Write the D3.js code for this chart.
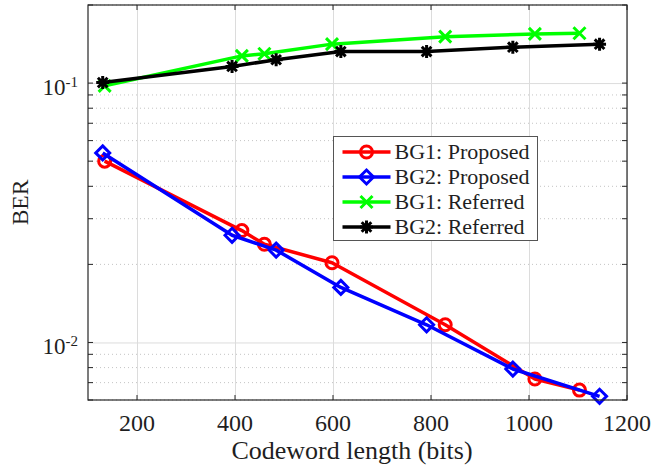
<!DOCTYPE html>
<html>
<head>
<meta charset="utf-8">
<script src="https://cdn.jsdelivr.net/npm/d3@7"></script>
<style>
  body { margin: 0; background: #fff; }
  svg text { font-family: "Liberation Serif", "Times New Roman", serif; fill: #1f1f1f; }
</style>
</head>
<body>
<svg class="js-chart"></svg>
<script>
// codeword lengths (bits) for each base graph
const xBG1 = [134, 414, 460, 598, 829, 1012, 1103];
const xBG2 = [130, 394, 484, 616, 791, 967, 1144];

// BER values
const berBG1Proposed = [0.0500, 0.0270, 0.0239, 0.0203, 0.0117, 0.00723, 0.00655];
const berBG2Proposed = [0.0538, 0.0259, 0.0227, 0.0163, 0.0117, 0.0079, 0.0062];
const berBG1Referred = [0.0976, 0.1273, 0.1297, 0.1413, 0.151, 0.1547, 0.1557];
const berBG2Referred = [0.1005, 0.1159, 0.123, 0.1323, 0.1323, 0.1375, 0.1413];

const seriesNames = ['BG1: Proposed', 'BG2: Proposed', 'BG1: Referred', 'BG2: Referred'];

const xTicks = [200, 400, 600, 800, 1000, 1200];
const yTicks = [0.1, 0.01];
const yTickExp = ['-1', '-2'];

(() => {
    const svgWidth = 652;
    const svgHeight = 466;
    const plot = {left: 88, right: 627, top: 5, bottom: 400};

    const svg = d3.select('.js-chart')
        .attr('width', svgWidth)
        .attr('height', svgHeight);

    const x = d3.scaleLinear()
        .domain([100, 1200])
        .range([plot.left, plot.right]);

    const y = d3.scaleLog()
        .domain([0.006, 0.2])
        .range([plot.bottom, plot.top]);

    const series = [
        {name: seriesNames[0], xs: xBG1, ys: berBG1Proposed, color: '#ff0000', marker: 'circle'},
        {name: seriesNames[1], xs: xBG2, ys: berBG2Proposed, color: '#0000ff', marker: 'diamond'},
        {name: seriesNames[2], xs: xBG1, ys: berBG1Referred, color: '#00ff00', marker: 'cross'},
        {name: seriesNames[3], xs: xBG2, ys: berBG2Referred, color: '#000000', marker: 'star'},
    ];

    const h = plot.bottom - plot.top;
    const w = plot.right - plot.left;

    // minor grid (dotted) for the log axis
    const minor = y.ticks().filter(v => !yTicks.includes(v));
    svg.append('g')
        .selectAll('line')
        .data(minor)
        .enter().append('line')
        .attr('x1', plot.left).attr('x2', plot.right)
        .attr('y1', d => y(d)).attr('y2', d => y(d))
        .attr('stroke', '#c4c4c4')
        .attr('stroke-width', 1)
        .attr('stroke-dasharray', '1,3');

    // major grid
    svg.append('g')
        .attr('transform', `translate(0,${plot.bottom})`)
        .call(d3.axisBottom(x).tickValues(xTicks).tickSize(-h).tickFormat(''))
        .call(g => g.select('.domain').remove())
        .call(g => g.selectAll('line').attr('stroke', '#dcdcdc'));
    svg.append('g')
        .attr('transform', `translate(${plot.left},0)`)
        .call(d3.axisLeft(y).tickValues(yTicks).tickSize(-w).tickFormat(''))
        .call(g => g.select('.domain').remove())
        .call(g => g.selectAll('line').attr('stroke', '#dcdcdc'));

    // lines
    const line = d3.line()
        .x(d => x(d[0]))
        .y(d => y(d[1]));

    const markerPath = (type) => {
        if (type === 'diamond') return 'M0,-7L7,0L0,7L-7,0Z';
        if (type === 'cross') return 'M-6,-6L6,6M-6,6L6,-6';
        if (type === 'star') return 'M-6.5,0L6.5,0M0,-6.5L0,6.5M-4.8,-4.8L4.8,4.8M-4.8,4.8L4.8,-4.8';
        return null;
    };

    const drawMarker = (g, type, color) => {
        if (type === 'circle') {
            g.append('circle').attr('r', 6)
                .attr('fill', 'none').attr('stroke', color).attr('stroke-width', 3);
        } else {
            g.append('path').attr('d', markerPath(type))
                .attr('fill', 'none').attr('stroke', color)
                .attr('stroke-width', 3);
        }
    };

    series.forEach(s => {
        const pts = s.xs.map((v, i) => [v, s.ys[i]]);
        svg.append('path')
            .attr('d', line(pts))
            .attr('fill', 'none')
            .attr('stroke', s.color)
            .attr('stroke-width', 3.5)
            .attr('stroke-linejoin', 'round');
        pts.forEach(p => {
            const g = svg.append('g')
                .attr('transform', `translate(${x(p[0])},${y(p[1])})`);
            drawMarker(g, s.marker, s.color);
        });
    });

    // axes box with inward ticks
    const tl = 5;
    const axisColor = '#262626';
    const ticksG = svg.append('g').attr('stroke', axisColor).attr('stroke-width', 1);
    xTicks.forEach(v => {
        ticksG.append('line').attr('x1', x(v)).attr('x2', x(v))
            .attr('y1', plot.bottom).attr('y2', plot.bottom - tl);
        ticksG.append('line').attr('x1', x(v)).attr('x2', x(v))
            .attr('y1', plot.top).attr('y2', plot.top + tl);
    });
    y.ticks().forEach(v => {
        ticksG.append('line').attr('x1', plot.left).attr('x2', plot.left + tl)
            .attr('y1', y(v)).attr('y2', y(v));
        ticksG.append('line').attr('x1', plot.right).attr('x2', plot.right - tl)
            .attr('y1', y(v)).attr('y2', y(v));
    });
    svg.append('rect')
        .attr('x', plot.left).attr('y', plot.top)
        .attr('width', w).attr('height', h)
        .attr('fill', 'none').attr('stroke', axisColor).attr('stroke-width', 1.2);

    // tick labels
    svg.append('g')
        .selectAll('text')
        .data(xTicks)
        .enter().append('text')
        .attr('x', d => x(d))
        .attr('y', 431)
        .attr('text-anchor', 'middle')
        .style('font-size', '24px')
        .text(d => d);

    yTicks.forEach((v, i) => {
        const t = svg.append('text')
            .attr('x', 78)
            .attr('y', y(v) + 11.5)
            .attr('text-anchor', 'end')
            .style('font-size', '23px');
        t.append('tspan').text('10');
        t.append('tspan')
            .attr('dy', -8)
            .style('font-size', '15px')
            .text(yTickExp[i]);
    });

    // axis labels
    svg.append('text')
        .attr('x', 352)
        .attr('y', 459)
        .attr('text-anchor', 'middle')
        .style('font-size', '26px')
        .text('Codeword length (bits)');

    svg.append('text')
        .attr('transform', `translate(28,${(plot.top + plot.bottom) / 2}) rotate(-90)`)
        .attr('text-anchor', 'middle')
        .style('font-size', '23.5px')
        .text('BER');

    // legend
    const legend = svg.append('g').attr('transform', 'translate(333.5,136.5)');
    legend.append('rect')
        .attr('width', 204).attr('height', 104)
        .attr('fill', '#fff').attr('stroke', '#555').attr('stroke-width', 1);
    series.forEach((s, i) => {
        const cy = 15.5 + i * 25;
        legend.append('line')
            .attr('x1', 9).attr('x2', 57)
            .attr('y1', cy).attr('y2', cy)
            .attr('stroke', s.color).attr('stroke-width', 3.5);
        const g = legend.append('g').attr('transform', `translate(33,${cy})`);
        drawMarker(g, s.marker, s.color);
        legend.append('text')
            .attr('x', 61)
            .attr('y', cy + 7)
            .style('font-size', '22px')
            .text(s.name);
    });
})();
</script>
</body>
</html>
